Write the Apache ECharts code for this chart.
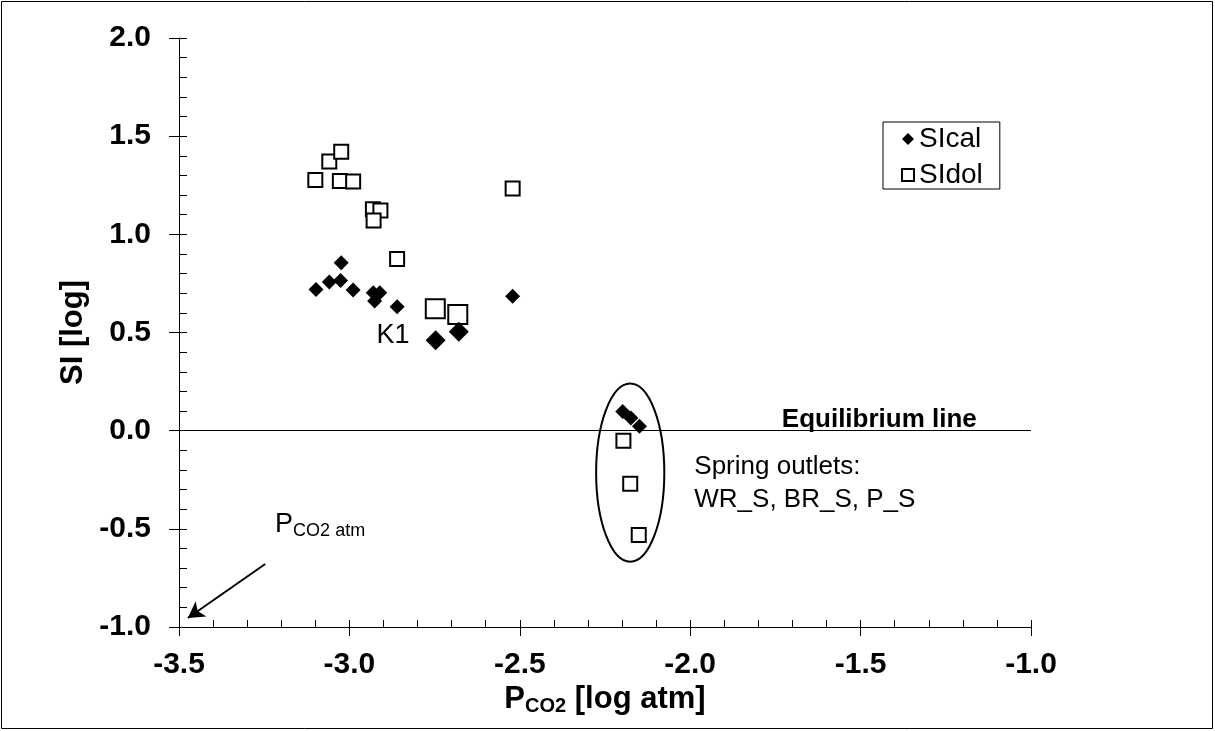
<!DOCTYPE html>
<html>
<head>
<meta charset="utf-8">
<script src="https://cdn.jsdelivr.net/npm/echarts@6/dist/echarts.min.js"></script>
<style>
  html, body { margin: 0; padding: 0; background: #fff; }
  #myChart { width: 1215px; height: 731px; }
</style>
</head>
<body>
<div id="myChart"></div>
<script>
// SIcal (calcite) - PCO2 [log atm] and SI [log]
var pco2Cal = [-3.098, -3.059, -3.024, -3.026, -2.989, -2.930, -2.911, -2.926, -2.860, -2.521, -2.198, -2.174, -2.149];
var siCal   = [0.719, 0.757, 0.855, 0.765, 0.716, 0.702, 0.702, 0.660, 0.631, 0.685, 0.098, 0.064, 0.022];
// SIdol (dolomite)
var pco2Dol = [-3.100, -3.059, -3.024, -3.028, -2.989, -2.931, -2.909, -2.929, -2.860, -2.521, -2.196, -2.176, -2.151];
var siDol   = [1.277, 1.371, 1.420, 1.272, 1.269, 1.128, 1.122, 1.071, 0.874, 1.233, -0.051, -0.270, -0.531];
// K1 samples (drawn larger)
var pco2CalK1 = [-2.747, -2.679];
var siCalK1   = [0.461, 0.504];
var pco2DolK1 = [-2.748, -2.682];
var siDolK1   = [0.621, 0.592];

var xRange = [-3.5, -1.0];
var yRange = [-1.0, 2.0];
var tickStep = 0.5;

function pairs(xs, ys) {
  return xs.map(function (x, i) { return [x, ys[i]]; });
}

var FONT = "'Liberation Sans', Arial, sans-serif";
var myChart = echarts.init(document.getElementById("myChart"));

var labelFmt = function (v) { return v.toFixed(1); };

var calStyle = { color: "#000", opacity: 1 };
var dolStyle = { color: "#fff", borderColor: "#000", borderWidth: 2, opacity: 1 };

myChart.setOption({
  animation: false,
  backgroundColor: "#fff",
  grid: { left: 179, right: 184, top: 38, bottom: 104 },
  legend: {
    orient: "vertical",
    left: 883,
    top: 122,
    data: ["SIcal", "SIdol"],
    borderColor: "#000",
    borderWidth: 1,
    padding: [3, 17, 0, 18],
    itemGap: 8,
    itemWidth: 12,
    itemHeight: 12,
    textStyle: { fontFamily: FONT, fontSize: 28, lineHeight: 27, color: "#000" }
  },
  xAxis: [
    {
      type: "value", min: xRange[0], max: xRange[1], interval: tickStep,
      axisLine: { onZero: false, lineStyle: { color: "#000", width: 1 } },
      axisTick: { inside: true, length: 7, lineStyle: { color: "#000" } },
      minorTick: { show: true, splitNumber: 5, length: 7, lineStyle: { color: "#000" } },
      splitLine: { show: false },
      axisLabel: { formatter: labelFmt, margin: 23, fontFamily: FONT, fontSize: 30, fontWeight: "bold", color: "#000" }
    },
    {
      type: "value", position: "bottom", min: xRange[0], max: xRange[1], interval: tickStep,
      axisLine: { show: false, onZero: false },
      axisTick: { inside: false, length: 9, lineStyle: { color: "#000" } },
      splitLine: { show: false },
      axisLabel: { show: false }
    }
  ],
  yAxis: [
    {
      type: "value", min: yRange[0], max: yRange[1], interval: tickStep,
      axisLine: { onZero: false, lineStyle: { color: "#000", width: 1 } },
      axisTick: { inside: true, length: 8, lineStyle: { color: "#000" } },
      minorTick: { show: true, splitNumber: 5, length: 8, lineStyle: { color: "#000" } },
      splitLine: { show: false },
      axisLabel: { formatter: labelFmt, margin: 28, fontFamily: FONT, fontSize: 30, fontWeight: "bold", color: "#000" }
    },
    {
      type: "value", position: "left", min: yRange[0], max: yRange[1], interval: tickStep,
      axisLine: { show: false, onZero: false },
      axisTick: { inside: false, length: 10, lineStyle: { color: "#000" } },
      splitLine: { show: false },
      axisLabel: { show: false }
    }
  ],
  series: [
    {
      name: "SIcal", type: "scatter", symbol: "diamond", symbolSize: 15,
      itemStyle: calStyle, data: pairs(pco2Cal, siCal), z: 4,
      markLine: {
        silent: true, symbol: "none", animation: false,
        lineStyle: { color: "#000", width: 1, type: "solid" },
        label: { show: false },
        data: [{ yAxis: 0 }]
      }
    },
    {
      name: "SIdol", type: "scatter", symbol: "rect", symbolSize: 14,
      itemStyle: dolStyle, data: pairs(pco2Dol, siDol), z: 3
    },
    {
      name: "SIcal K1", type: "scatter", symbol: "diamond", symbolSize: 20,
      itemStyle: calStyle, data: pairs(pco2CalK1, siCalK1), z: 4
    },
    {
      name: "SIdol K1", type: "scatter", symbol: "rect", symbolSize: 19,
      itemStyle: dolStyle, data: pairs(pco2DolK1, siDolK1), z: 3,
      markLine: {
        silent: true, animation: false,
        symbol: ["none", "arrow"], symbolSize: [14, 16],
        lineStyle: { color: "#000", width: 2, type: "solid" },
        label: { show: false },
        data: [[{ coord: [-3.247, -0.679] }, { coord: [-3.474, -0.954] }]]
      }
    }
  ]
});

// annotations placed in data coordinates
function px(x, y) { return myChart.convertToPixel({ gridIndex: 0 }, [x, y]); }
var ellC = px(-2.176, -0.214);
var ellE = px(-2.076, 0.24);
var k1 = px(-2.872, 0.485);
var eq = px(-1.159, 0.055);
var sp1 = px(-1.988, -0.184);
var sp2 = px(-1.988, -0.352);
var patm = px(-3.218, -0.48);
var mid = px((xRange[0] + xRange[1]) / 2, (yRange[0] + yRange[1]) / 2);

myChart.setOption({
  graphic: [
    { type: "rect", shape: { x: 1.5, y: 1.5, width: 1211, height: 727 }, style: { fill: "none", stroke: "#000", lineWidth: 1 }, silent: true },
    { type: "ellipse", shape: { cx: ellC[0], cy: ellC[1], rx: ellE[0] - ellC[0], ry: ellC[1] - ellE[1] }, style: { fill: "none", stroke: "#000", lineWidth: 2 }, z: 10 },
    { type: "text", x: k1[0], y: k1[1], style: { text: "K1", font: "27px " + FONT, fill: "#000", textAlign: "center", textVerticalAlign: "middle" } },
    { type: "text", x: eq[0], y: eq[1], style: { text: "Equilibrium line", font: "bold 26px " + FONT, fill: "#000", textAlign: "right", textVerticalAlign: "middle" } },
    { type: "text", x: sp1[0], y: sp1[1], style: { text: "Spring outlets:", font: "26px " + FONT, fill: "#000", textAlign: "left", textVerticalAlign: "middle" } },
    { type: "text", x: sp2[0], y: sp2[1], style: { text: "WR_S, BR_S, P_S", font: "26px " + FONT, fill: "#000", textAlign: "left", textVerticalAlign: "middle" } },
    {
      type: "text", x: patm[0], y: patm[1],
      style: {
        text: "{a|P}{b|CO2 atm}",
        textAlign: "left", textVerticalAlign: "middle",
        rich: {
          a: { fontFamily: FONT, fontSize: 27, color: "#000", lineHeight: 30 },
          b: { fontFamily: FONT, fontSize: 18, color: "#000", lineHeight: 30, padding: [13, 0, 0, 0] }
        }
      }
    },
    {
      type: "text", x: mid[0], y: 699,
      style: {
        text: "{a|P}{b|CO2}{a| [log atm]}",
        textAlign: "center", textVerticalAlign: "middle",
        rich: {
          a: { fontFamily: FONT, fontSize: 31, fontWeight: "bold", color: "#000", lineHeight: 34 },
          b: { fontFamily: FONT, fontSize: 20, fontWeight: "bold", color: "#000", lineHeight: 34, padding: [14, 0, 0, 0] }
        }
      }
    },
    {
      type: "text", x: 73, y: mid[1], rotation: Math.PI / 2,
      style: { text: "SI [log]", font: "bold 31px " + FONT, fill: "#000", textAlign: "center", textVerticalAlign: "middle" }
    }
  ]
});
</script>
</body>
</html>
